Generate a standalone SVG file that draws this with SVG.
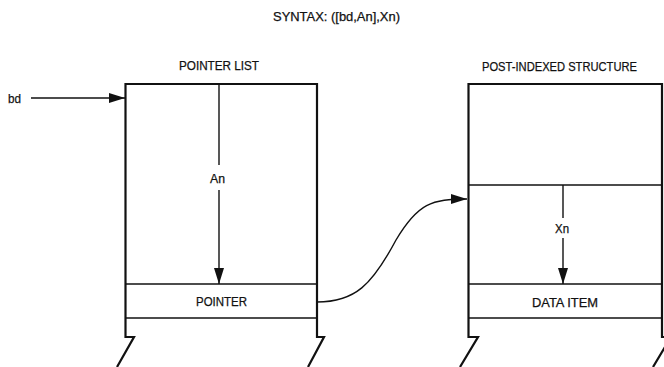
<svg xmlns="http://www.w3.org/2000/svg" width="664" height="367" viewBox="0 0 664 367">
<style>
text{font-family:"Liberation Sans Narrow","Liberation Sans",Arial,sans-serif;font-size:12.5px;fill:#111;stroke:#111;stroke-width:0.25;}
.box{fill:none;stroke:#111;stroke-width:2.2;stroke-linejoin:miter;}
.band{fill:none;stroke:#111;stroke-width:1.5;}
.conn{fill:none;stroke:#111;stroke-width:1.4;}
</style>
<defs>
<marker id="ah" viewBox="0 0 16 10" refX="16" refY="5" markerWidth="16" markerHeight="10" markerUnits="userSpaceOnUse" orient="auto">
<path d="M0,0 L16,5 L0,10 Z" fill="#111"/>
</marker>
</defs>
<rect width="664" height="367" fill="#fff"/>
<text x="336.5" y="21" text-anchor="middle" textLength="127" lengthAdjust="spacingAndGlyphs">SYNTAX: ([bd,An],Xn)</text>
<g id="pointer-list">
<text x="219" y="70" text-anchor="middle" textLength="80" lengthAdjust="spacingAndGlyphs">POINTER LIST</text>
<path class="box" d="M117,367 L134,337 L125.5,337 L125.5,84 L317,84 L317,337 L324,337 L308,367"/>
<line class="band" x1="125" y1="284" x2="317" y2="284"/>
<line class="band" x1="125" y1="318" x2="317" y2="318"/>
<text x="221.5" y="306" text-anchor="middle" textLength="51" lengthAdjust="spacingAndGlyphs">POINTER</text>
<text x="217.5" y="182.5" text-anchor="middle" textLength="15" lengthAdjust="spacingAndGlyphs">An</text>
</g>
<g id="post-indexed-structure">
<text x="559.5" y="71" text-anchor="middle" textLength="155" lengthAdjust="spacingAndGlyphs">POST-INDEXED STRUCTURE</text>
<path class="box" d="M460,367 L478,337 L468.5,337 L468.5,84 L662,84 L662,337 L671,337 L653,367"/>
<line class="band" x1="468" y1="185" x2="662" y2="185"/>
<line class="band" x1="468" y1="284" x2="662" y2="284"/>
<line class="band" x1="468" y1="318" x2="662" y2="318"/>
<text x="565" y="307" text-anchor="middle" textLength="66" lengthAdjust="spacingAndGlyphs">DATA ITEM</text>
<text x="562" y="232.5" text-anchor="middle" textLength="14" lengthAdjust="spacingAndGlyphs">Xn</text>
</g>
<g id="bd-label">
<text x="8" y="102.5" textLength="13" lengthAdjust="spacingAndGlyphs">bd</text>
</g>
<g id="connectors">
<line class="conn" x1="31" y1="98" x2="125" y2="98" marker-end="url(#ah)"/>
<line class="conn" x1="219" y1="84" x2="219" y2="165"/>
<line class="conn" x1="219" y1="190" x2="219" y2="284" marker-end="url(#ah)"/>
<line class="conn" x1="563" y1="185" x2="563" y2="218"/>
<line class="conn" x1="563" y1="238" x2="563" y2="284" marker-end="url(#ah)"/>
<path class="conn" d="M317,302 C355,302 372,285 396,240 C418,203 432,199 467,199" marker-end="url(#ah)"/>
</g>
</svg>
